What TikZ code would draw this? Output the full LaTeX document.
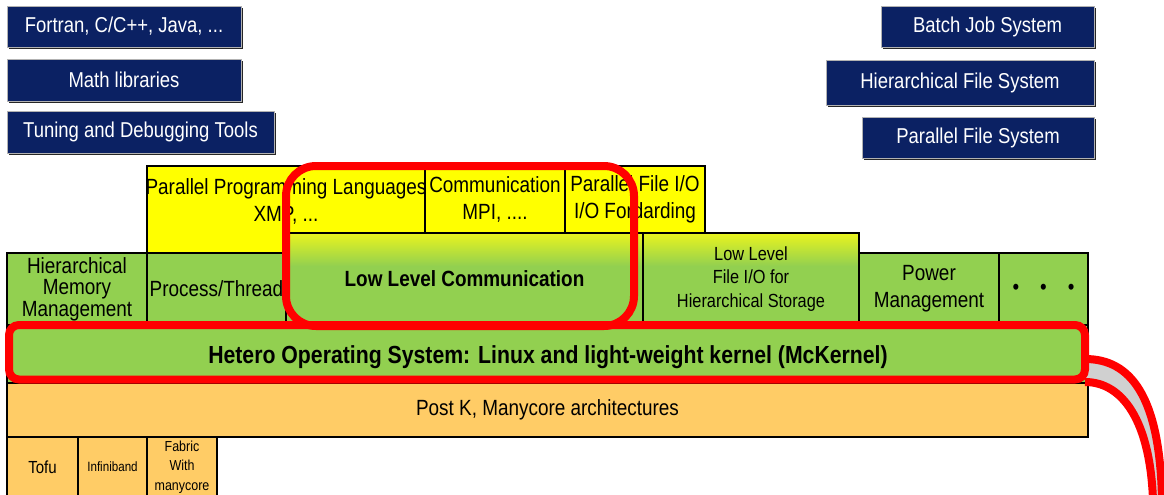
\documentclass[tikz,border=0pt]{standalone}
\usepackage{fontspec}
\setmainfont{Liberation Sans}[FakeStretch=0.86]
\usetikzlibrary{shadows}

\definecolor{navyc}{HTML}{0B2163}
\definecolor{cellgreen}{HTML}{92D050}
\definecolor{cellyellow}{HTML}{FFFF00}
\definecolor{cellorange}{HTML}{FFCC66}
\definecolor{hired}{HTML}{FF0000}
\definecolor{ygreen}{HTML}{EAF41E}
\definecolor{calloutgray}{HTML}{D0D0D0}

% green cell that turns yellow-green towards its top edge
\pgfdeclareverticalshading{fadegreen}{100bp}{color(0bp)=(cellgreen); color(57bp)=(cellgreen); color(75bp)=(ygreen); color(100bp)=(ygreen)}

\newcommand\fsz[2]{\fontsize{#1}{#2}\selectfont}
% \layerbox{name}{x1}{y1}{x2}{y2}{style}{text}: box between two corners
\newcommand\layerbox[7]{\node[#6, anchor=north west, outer sep=0pt, minimum width={#4-#2}, minimum height={#5-#3}] (#1) at (#2,#3) {#7};}

\begin{document}
\begin{tikzpicture}[x=1pt,y=-1pt,
  cell/.style={draw=black, line width=1.4pt, inner sep=0pt, align=center, font=\fsz{22}{27}},
  navybox/.style={fill=navyc, draw=black!30, line width=0.8pt, text=white, inner sep=0pt,
    font=\fsz{21.5}{26}, drop shadow={shadow xshift=2.4pt, shadow yshift=-2.4pt, fill=black!85, opacity=1}},
  greencell/.style={cell, fill=cellgreen},
  yellowcell/.style={cell, fill=cellyellow},
  fadecell/.style={cell, shade, shading=fadegreen},
  orangecell/.style={cell, fill=cellorange},
  redframe/.style={draw=hired, line width=8pt, inner sep=0pt},
  lbl/.style={inner sep=0pt, align=center, font=\fsz{22}{27}},
]
\clip (0,0) rectangle (1164,495);

% software and system tools
\layerbox{langs}{7}{6}{241}{47}{navybox}{Fortran, C/C++, Java, ...}
\layerbox{mathlib}{7}{59}{241}{101}{navybox}{Math libraries}
\layerbox{tools}{7}{111}{274}{153}{navybox}{Tuning and Debugging Tools}
\layerbox{batch}{881}{6}{1094}{47}{navybox}{Batch Job System}
\layerbox{hfs}{826}{60}{1094}{105}{navybox}{Hierarchical File System}
\layerbox{pfs}{862}{117}{1094}{158}{navybox}{Parallel File System}

% middleware layer
\layerbox{ppl}{147}{166}{425}{253}{yellowcell}{}
\node[lbl] (ppltext) at (286,201) {Parallel Programming Languages\\XMP, ...};
\layerbox{mpi}{425}{166}{565}{233}{yellowcell}{Communication\\MPI, ....}
\layerbox{pfio}{565}{166}{705}{233}{yellowcell}{Parallel File I/O\\I/O Fordarding}

% system services layer
\layerbox{hmm}{7}{253}{147}{325}{greencell, font=\fsz{22}{21.5}}{Hierarchical\\Memory\\Management}
\layerbox{proc}{147}{253}{286}{325}{greencell}{Process/Thread}
\layerbox{llc}{286}{233}{643}{325}{fadecell, font=\bfseries\fsz{22}{27}}{Low Level Communication}
\layerbox{llfio}{643}{233}{859}{325}{fadecell, font=\fsz{19}{23.5}}{Low Level\\File I/O for\\Hierarchical Storage}
\layerbox{power}{859}{253}{999}{325}{greencell}{Power\\Management}
\layerbox{more}{999}{253}{1088}{325}{greencell}{•\hspace{21pt}•\hspace{21pt}•}

% operating system and hardware
\layerbox{hetero}{7}{325}{1088}{383}{greencell}{}
\node[lbl, font=\bfseries\fsz{24.7}{27}] (heterotext) at (548,357) {Hetero Operating System: Linux and light-weight kernel (McKernel)};
\layerbox{postk}{7}{383}{1088}{437}{orangecell}{Post K, Manycore architectures}
\layerbox{tofu}{7}{437}{78}{497}{orangecell, font=\fsz{17.5}{20}}{Tofu}
\layerbox{ib}{78}{437}{147}{497}{orangecell, font=\fsz{13.5}{16}}{Infiniband}
\layerbox{fabric}{147}{437}{217}{497}{orangecell, font=\fsz{14.5}{19.5}}{Fabric\\With\\manycore}

% callout leaving the operating system frame
\coordinate (calloutUpper) at (1085,359);
\coordinate (calloutLower) at (1085,382);
\coordinate (calloutUpperEnd) at (1162,500);
\coordinate (calloutLowerEnd) at (1153,500);
\fill[calloutgray] (calloutUpper) .. controls (1130,359) and (1160,395) .. (calloutUpperEnd)
  -- (calloutLowerEnd) .. controls (1150,420) and (1122,382) .. (calloutLower) -- cycle;
\draw[hired, line width=8pt] (calloutUpper) .. controls (1130,359) and (1160,395) .. (calloutUpperEnd);
\draw[hired, line width=8pt] (calloutLower) .. controls (1122,382) and (1150,420) .. (calloutLowerEnd);

% highlight frames
\layerbox{commframe}{286}{166}{634}{326}{redframe, rounded corners=30pt}{}
\layerbox{osframe}{9}{325}{1085}{379.5}{redframe, rounded corners=10pt}{}
\end{tikzpicture}
\end{document}
